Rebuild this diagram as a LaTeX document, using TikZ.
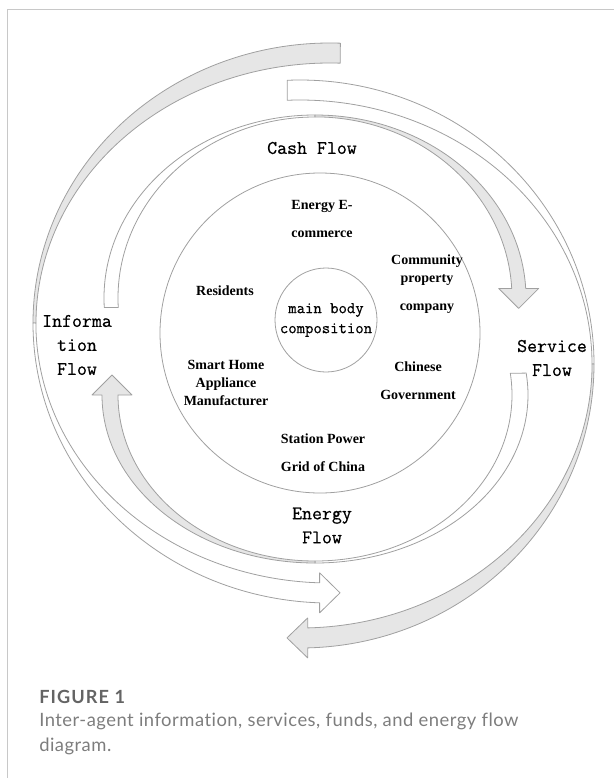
\documentclass[tikz,border=0pt]{standalone}
\usepackage{fontspec}
\setmainfont{Liberation Serif}
\newfontfamily\capfont{Lato}[Ligatures=NoCommon, LetterSpace=2.7]
\newfontfamily\figfont{Lato}[Ligatures=NoCommon, LetterSpace=6]
\newfontfamily\flowfont{Latin Modern Mono}[FakeBold=0.6]
\usepackage{tikz}

\definecolor{bandline}{RGB}{160,160,160}
\definecolor{bandfill}{RGB}{230,230,230}
\definecolor{framegray}{RGB}{200,200,200}
\definecolor{figgray}{RGB}{100,100,100}
\definecolor{capgray}{RGB}{125,125,125}

\begin{document}
\begin{tikzpicture}[x=0.75pt,y=0.75pt,yscale=-1,xscale=1,
	band/.style={draw=bandline, line width=0.6pt, line join=round},
	backband/.style={band, fill=white},
	frontband/.style={band, fill=bandfill},
	flowlabel/.style={font=\flowfont\fontsize{14.5}{18}\selectfont, align=center, inner sep=0pt},
	agent/.style={font=\bfseries\fontsize{10.5}{21}\selectfont, align=center, inner sep=0pt},
	captext/.style={anchor=west, align=left, inner sep=0pt}]
		\useasboundingbox (0,0) rectangle (614,778);
		
		%Shape: Frame
		\draw [framegray, line width=0.75pt] (7.3,778) -- (7.3,9.5) -- (614,9.5) ;
		
		%Ellipse centres of the four curved arrows
		\coordinate (cashc) at (315,298) ;
		\coordinate (energyc) at (315,395) ;
		\coordinate (infoc) at (330,323) ;
		\coordinate (servicec) at (300,364) ;
		
		%Shape: Curved Arrow, information flow
		\draw [frontband] (infoc) ++(-88:297 and 280) arc[start angle=-88, end angle=-180, x radius=297, y radius=280] -- ++(3,0) arc[start angle=-180, end angle=-88, x radius=294, y radius=260] -- cycle ;
		\draw [backband] (infoc) ++(180:297 and 280) arc[start angle=180, end angle=92, x radius=297, y radius=280] -- ++(0,10) -- ++(20.4,-20) -- ++(-20.4,-20) -- ++(0,10) arc[start angle=92, end angle=180, x radius=294, y radius=260] -- cycle ;
		%Shape: Curved Arrow, service flow
		\draw [backband] (servicec) ++(-92.5:294 and 284) arc[start angle=-92.5, end angle=0, x radius=294, y radius=284] -- ++(-2,0) arc[start angle=0, end angle=-92.5, x radius=292, y radius=264] -- cycle ;
		\draw [frontband] (servicec) ++(0:294 and 284) arc[start angle=0, end angle=88.5, x radius=294, y radius=284] -- ++(0,10) -- ++(-20.7,-20) -- ++(20.7,-20) -- ++(0,10) arc[start angle=88.5, end angle=0, x radius=292, y radius=264] -- cycle ;
		%Shape: Curved Arrow, cash flow
		\draw [backband] (cashc) ++(177:211 and 183) arc[start angle=177, end angle=270, x radius=211, y radius=183] -- ++(0,2) arc[start angle=270, end angle=177, x radius=197, y radius=181] -- cycle ;
		\draw [frontband] (cashc) ++(-90:211 and 183) arc[start angle=-90, end angle=-3, x radius=211, y radius=183] -- ++(13,0) -- ++(-20,20) -- ++(-20,-20) -- ++(13,0) arc[start angle=-3, end angle=-90, x radius=197, y radius=181] -- cycle ;
		%Shape: Curved Arrow, energy flow
		\draw [backband] (energyc) ++(-7.5:213 and 168) arc[start angle=-7.5, end angle=90, x radius=213, y radius=168] -- ++(0,-2) arc[start angle=90, end angle=-7.5, x radius=197, y radius=166] -- cycle ;
		\draw [frontband] (energyc) ++(90:213 and 168) arc[start angle=90, end angle=180, x radius=213, y radius=168] -- ++(-10,0) -- ++(20,-20) -- ++(20,20) -- ++(-14,0) arc[start angle=180, end angle=90, x radius=197, y radius=166] -- cycle ;
		
		%Shape: Circle, agents
		\draw [band] (320,333) circle [radius=160] ;
		%Shape: Circle, main body
		\draw [band] (326,320) ellipse [x radius=51, y radius=52] ;
		
		% Text Node
		\draw (326,320) node (core) [flowlabel, font=\flowfont\fontsize{12.2}{15}\selectfont] {main body\\composition};
		% Text Node
		\draw (312,148) node (cashflow) [flowlabel] {Cash Flow};
		% Text Node
		\draw (77,345) node (infoflow) [flowlabel] {Informa\\tion\\Flow};
		% Text Node
		\draw (552,358) node (serviceflow) [flowlabel] {Service\\Flow};
		% Text Node
		\draw (322,525.5) node (energyflow) [flowlabel] {Energy\\Flow};
		% Text Node
		\draw (322,219) node (ecommerce) [agent] {Energy E-\\commerce};
		% Text Node
		\draw (225,291) node (residents) [agent] {Residents};
		% Text Node
		\draw (427,284) node (property) [agent] {Community\\[-7.5pt]property\\company};
		% Text Node
		\draw (226,382.5) node (appliance) [agent] {Smart Home\\[-7.5pt]Appliance\\[-7.5pt]Manufacturer};
		% Text Node
		\draw (418,380.5) node (government) [agent] {Chinese\\Government};
		% Text Node
		\draw (323,453) node (grid) [agent] {Station Power\\Grid of China};
		
		% Text Node
		\draw (39,697) node (figlabel) [captext, font=\figfont\bfseries\fontsize{13.6}{18}\selectfont, text=figgray] {FIGURE 1};
		% Text Node
		\draw (39,733.5) node (figcaption) [captext, font=\capfont\fontsize{13.8}{18.75}\selectfont, text=capgray] {Inter-agent information, services, funds, and energy flow\\diagram.};
		
\end{tikzpicture}
\end{document}
